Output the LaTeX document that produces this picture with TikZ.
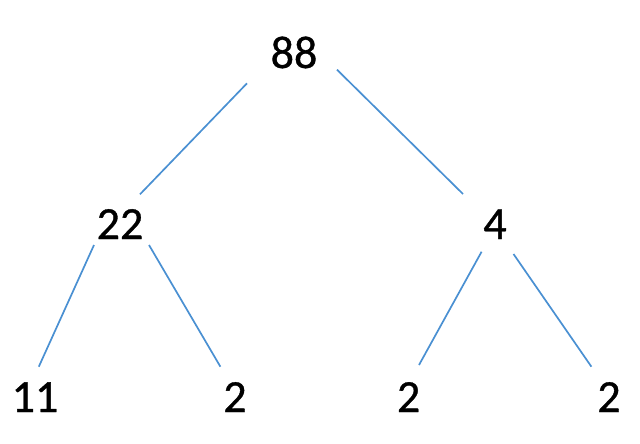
\documentclass[tikz,border=0pt]{standalone}
\usepackage{fontspec}
\setmainfont[FakeBold=0.8,BoldFont=Carlito]{Carlito}
\definecolor{edgeblue}{RGB}{74,144,210}
\begin{document}
\begin{tikzpicture}[x=1pt,y=-1pt,
  num/.style={anchor=base,inner sep=0pt,font=\fontsize{46}{55}\selectfont\bfseries},
  edge/.style={draw=edgeblue,line width=1.7pt}]
\useasboundingbox (0,0) rectangle (640,444);
\node[num] (n88) at (294,68) {88};
\node[num] (n22) at (120,239) {22};
\node[num] (n4)  at (495,239) {4};
\node[num] (n11) at (35,412) {11};
\node[num] (n2a) at (235,412) {2};
\node[num] (n2b) at (408.6,412) {2};
\node[num] (n2c) at (609,412) {2};
\draw[edge] ([shift={(-47,15.3)}]n88.base) -- ([shift={(20,-44.7)}]n22.base);
\draw[edge] ([shift={(43,1.7)}]n88.base) -- ([shift={(-32,-45)}]n4.base);
\draw[edge] ([shift={(-26,6)}]n22.base) -- ([shift={(3.8,-45.3)}]n11.base);
\draw[edge] ([shift={(29,6)}]n22.base) -- ([shift={(-14.6,-45.3)}]n2a.base);
\draw[edge] ([shift={(-13.4,12.7)}]n4.base) -- ([shift={(10.4,-47)}]n2b.base);
\draw[edge] ([shift={(18.5,15)}]n4.base) -- ([shift={(-17.6,-45.3)}]n2c.base);
\end{tikzpicture}
\end{document}
